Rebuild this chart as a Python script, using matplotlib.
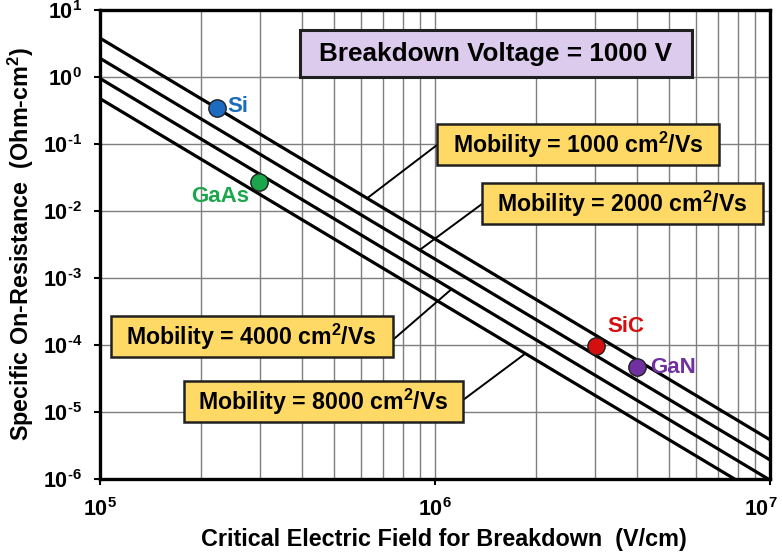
import matplotlib
matplotlib.use("Agg")
import matplotlib.pyplot as plt
import matplotlib.ticker as mticker
import matplotlib.transforms as mtransforms
from matplotlib.patches import Rectangle
import numpy as np

plt.rcParams['font.family'] = ['Liberation Sans', 'DejaVu Sans']
plt.rcParams['mathtext.fontset'] = 'custom'
plt.rcParams['mathtext.rm'] = 'Liberation Sans:bold'
plt.rcParams['mathtext.bf'] = 'Liberation Sans:bold'

# line endpoints: field (V/cm) -> specific on-resistance (Ohm-cm2)
field_ends = [1e5, 1e7]
mobilities = [1000, 2000, 4000, 8000]
ron_ends = {
    1000: [3.8, 3.8e-6],
    2000: [1.9, 1.9e-6],
    4000: [0.95, 0.95e-6],
    8000: [0.475, 0.475e-6],
}

x_ticks = [1e5, 1e6, 1e7]
y_ticks = [1e-6, 1e-5, 1e-4, 1e-3, 1e-2, 1e-1, 1e0, 1e1]

materials = ['Si', 'GaAs', 'SiC', 'GaN']
mat_field = [2.23e5, 2.98e5, 3.02e6, 4.0e6]
mat_ron = [0.34, 0.0268, 9.7e-5, 4.6e-5]
mat_color = ['#1C6BC0', '#1AA64A', '#D40F0F', '#7030A0']


def pow_label(v):
    n = int(round(np.log10(v)))
    if n < 0:
        return r'$\mathbf{10^{\text{-}%d}}$' % (-n)
    return r'$\mathbf{10^{%d}}$' % n


def main():
    fig = plt.figure(figsize=(7.82, 5.53), dpi=100)
    ax = fig.add_axes([0.1279, 0.1345, 0.8568, 0.8474])

    for mu in mobilities:
        ax.plot(field_ends, ron_ends[mu], color='black', lw=2.3, zorder=3,
                solid_capstyle='butt')

    ax.set_xscale('log')
    ax.set_yscale('log')
    ax.set_xlim(1e5, 1e7)
    ax.set_ylim(1e-6, 1e1)

    ax.set_xticks(x_ticks, [pow_label(v) for v in x_ticks])
    ax.set_yticks(y_ticks, [pow_label(v) for v in y_ticks])
    ax.xaxis.set_minor_locator(mticker.LogLocator(base=10, subs=np.arange(2, 10)))
    ax.xaxis.set_minor_formatter(mticker.NullFormatter())
    ax.yaxis.set_minor_locator(mticker.NullLocator())

    ax.grid(True, which='major', axis='both', color='#7f7f7f', lw=1.0, zorder=1)
    ax.grid(True, which='minor', axis='x', color='#7f7f7f', lw=1.0, zorder=1)
    ax.set_axisbelow(True)

    ax.tick_params(axis='both', which='major', direction='out', length=4, width=1.5,
                   labelsize=15.5, colors='black')
    ax.tick_params(axis='x', which='major', pad=10)
    ax.tick_params(axis='y', which='major', pad=9)
    ax.tick_params(axis='x', which='minor', length=0)
    for sp in ax.spines.values():
        sp.set_linewidth(2.4)

    ax.set_xlabel('Critical Electric Field for Breakdown  (V/cm)', fontsize=16.8,
                  fontweight='bold', labelpad=5)
    ax.xaxis.label.set_x(0.513)
    ax.set_ylabel('Specific On-Resistance  (Ohm-cm$^{2}$)', fontsize=16.8,
                  fontweight='bold', labelpad=5)

    # nudge the last x tick label in so it stays inside the figure
    last = ax.get_xticklabels()[-1]
    last.set_transform(last.get_transform() +
                       mtransforms.ScaledTranslation(-9 / 100, 0, fig.dpi_scale_trans))

    # material points
    for name, e, r, c in zip(materials, mat_field, mat_ron, mat_color):
        ax.plot(e, r, 'o', ms=12.5, mfc=c, mec='#202020', mew=1.0, zorder=5)
    offsets = {'Si': (8, 1, 'left', 'center'),
               'GaAs': (-7, -10, 'right', 'center'),
               'SiC': (8, 14, 'left', 'center'),
               'GaN': (10, 0, 'left', 'center')}
    for name, e, r, c in zip(materials, mat_field, mat_ron, mat_color):
        dx, dy, ha, va = offsets[name]
        ax.annotate(name, xy=(e, r), xytext=(dx, dy), textcoords='offset points',
                    ha=ha, va=va, color=c, fontsize=16, fontweight='bold', zorder=6)

    # breakdown voltage box
    ax.add_patch(Rectangle((0.2985, 0.857), 0.5855, 0.101, transform=ax.transAxes,
                           facecolor='#DCCBEC', edgecolor='#202020', lw=2.2, zorder=6))
    ax.text(0.591, 0.907, 'Breakdown Voltage = 1000 V', transform=ax.transAxes,
            ha='center', va='center', fontsize=18.8, fontweight='bold', zorder=7)

    # mobility boxes: (left, bottom, right, top), leader end on box, field where leader meets line
    boxes = {
        1000: ((0.503, 0.669, 0.924, 0.757), (0.503, 0.712), 6.27e5),
        2000: ((0.570, 0.543, 0.990, 0.631), (0.570, 0.586), 9.0e5),
        4000: ((0.016, 0.259, 0.437, 0.347), (0.437, 0.296), 1.12e6),
        8000: ((0.125, 0.121, 0.542, 0.208), (0.542, 0.168), 1.86e6),
    }
    for mu in mobilities:
        (x0, y0, x1, y1), lead, e_hit = boxes[mu]
        r0, r1 = ron_ends[mu]
        t = np.log10(e_hit / field_ends[0]) / np.log10(field_ends[1] / field_ends[0])
        r_hit = 10 ** (np.log10(r0) + t * (np.log10(r1) - np.log10(r0)))
        ax.annotate('', xy=(e_hit, r_hit), xytext=lead, textcoords='axes fraction',
                    arrowprops=dict(arrowstyle='-', lw=1.4, color='black',
                                    shrinkA=0, shrinkB=0), zorder=4)
        ax.add_patch(Rectangle((x0, y0), x1 - x0, y1 - y0, transform=ax.transAxes,
                               facecolor='#FFD966', edgecolor='#202020', lw=1.8, zorder=6))
        ax.text((x0 + x1) / 2, (y0 + y1) / 2, 'Mobility = %d cm$^{2}$/Vs' % mu,
                transform=ax.transAxes, ha='center', va='center', fontsize=16.7,
                fontweight='bold', zorder=7)

    fig.savefig('out.png', dpi=100)


if __name__ == '__main__':
    main()
